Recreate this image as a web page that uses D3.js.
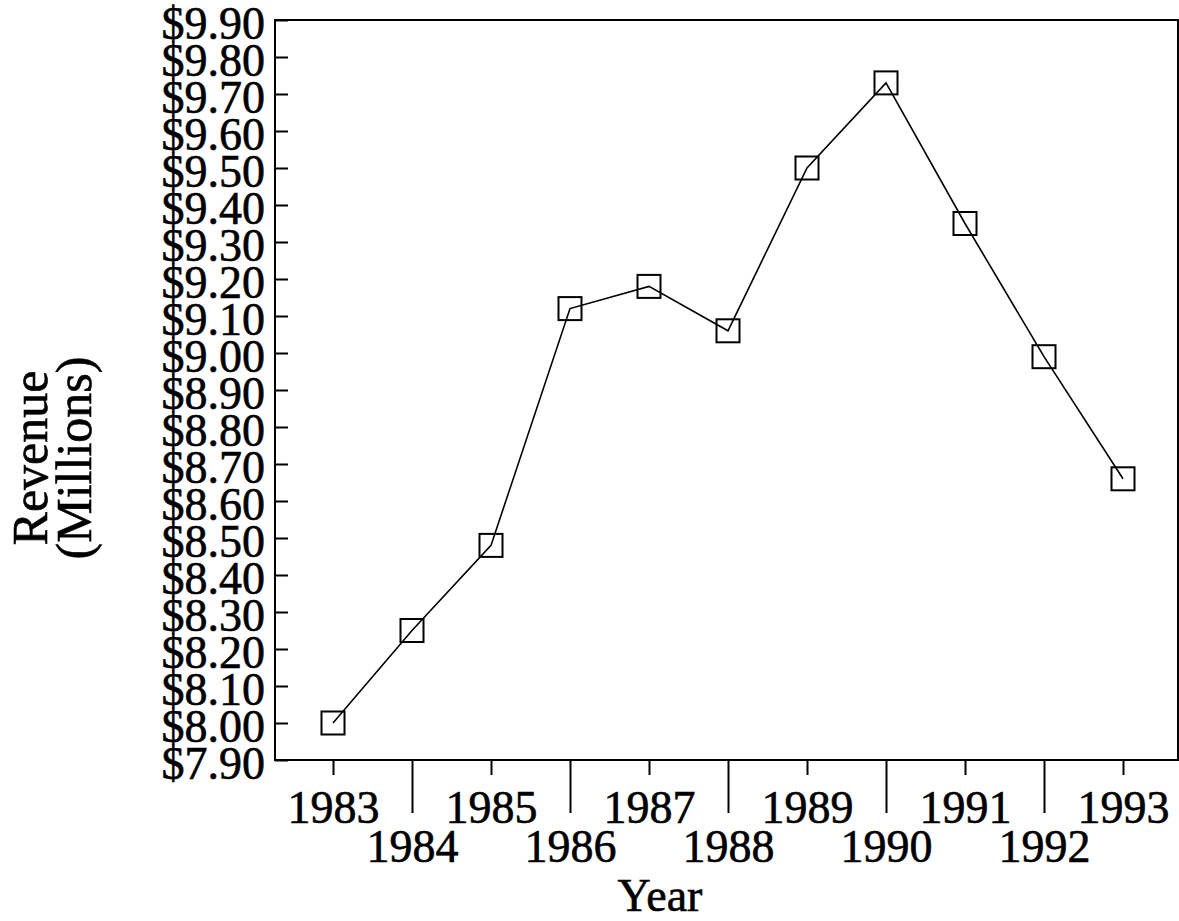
<!DOCTYPE html>
<html>
<head>
<meta charset="utf-8">
<script src="https://cdn.jsdelivr.net/npm/d3@7"></script>
<style>
  body { margin: 0; background: #fff; }
  text { font-family: "Liberation Serif", "DejaVu Serif", serif; fill: #000; stroke: #000; stroke-width: 0.6px; }
</style>
</head>
<body>
<div id="chart"></div>
<script>
// data
var years = [1983, 1984, 1985, 1986, 1987, 1988, 1989, 1990, 1991, 1992, 1993];
var revenue = [8.00, 8.25, 8.48, 9.12, 9.18, 9.06, 9.50, 9.73, 9.35, 8.99, 8.66];
var yTicks = [7.9, 8.0, 8.1, 8.2, 8.3, 8.4, 8.5, 8.6, 8.7, 8.8, 8.9, 9.0,
              9.1, 9.2, 9.3, 9.4, 9.5, 9.6, 9.7, 9.8, 9.9];

var width = 1179, height = 921;
var box = { left: 275, top: 20, right: 1178, bottom: 760 };

var svg = d3.select("#chart").append("svg")
    .attr("width", width)
    .attr("height", height);

var x = d3.scaleLinear()
    .domain([1983, 1993])
    .range([333, 1123]);

var y = d3.scaleLinear()
    .domain([7.9, 9.9])
    .range([box.bottom, box.top]);

// frame
svg.append("rect")
    .attr("x", box.left)
    .attr("y", box.top)
    .attr("width", box.right - box.left)
    .attr("height", box.bottom - box.top)
    .attr("fill", "none")
    .attr("stroke", "#000")
    .attr("stroke-width", 2);

// y axis, ticks pointing inward
var yAxis = svg.append("g")
    .attr("transform", "translate(" + box.left + ",0)")
    .call(d3.axisLeft(y)
        .tickValues(yTicks)
        .tickFormat(d3.format("$.2f"))
        .tickSizeInner(-13)
        .tickSizeOuter(0)
        .tickPadding(10));
yAxis.select(".domain").remove();
yAxis.selectAll(".tick line").attr("stroke-width", 2);
yAxis.selectAll(".tick text")
    .attr("font-size", 46)
    .attr("font-family", "Liberation Serif")
    .attr("x", -10)
    .attr("dy", "0.4em");

// x axis, alternating long / short ticks and staggered labels
var xAxis = svg.append("g")
    .attr("transform", "translate(0," + box.bottom + ")")
    .call(d3.axisBottom(x)
        .tickValues(years)
        .tickFormat(d3.format("d"))
        .tickSizeOuter(0));
xAxis.select(".domain").remove();
xAxis.selectAll(".tick line")
    .attr("stroke-width", 2)
    .attr("y2", function(d, i) { return i % 2 ? 53 : 15; });
xAxis.selectAll(".tick text")
    .attr("font-size", 46)
    .attr("font-family", "Liberation Serif")
    .attr("y", function(d, i) { return i % 2 ? 102 : 63; })
    .attr("dy", 0);

// axis titles
svg.append("text")
    .attr("x", 660)
    .attr("y", 911)
    .attr("text-anchor", "middle")
    .attr("font-size", 46)
    .text("Year");

var yTitle = svg.append("g")
    .attr("transform", "translate(0,458) rotate(-90)");
yTitle.append("text")
    .attr("x", 0)
    .attr("y", 47)
    .attr("text-anchor", "middle")
    .attr("font-size", 50)
    .text("Revenue");
yTitle.append("text")
    .attr("x", 0)
    .attr("y", 91)
    .attr("text-anchor", "middle")
    .attr("font-size", 50)
    .text("(Millions)");

// series line
var line = d3.line()
    .x(function(d, i) { return x(years[i]); })
    .y(function(d) { return y(d); });

svg.append("path")
    .datum(revenue)
    .attr("d", line)
    .attr("fill", "none")
    .attr("stroke", "#000")
    .attr("stroke-width", 1.6);

// square markers
svg.selectAll(".marker")
    .data(revenue)
    .enter().append("rect")
    .attr("class", "marker")
    .attr("x", function(d, i) { return x(years[i]) - 11.5; })
    .attr("y", function(d) { return y(d) - 11.5; })
    .attr("width", 23)
    .attr("height", 23)
    .attr("fill", "none")
    .attr("stroke", "#000")
    .attr("stroke-width", 2);
</script>
</body>
</html>
